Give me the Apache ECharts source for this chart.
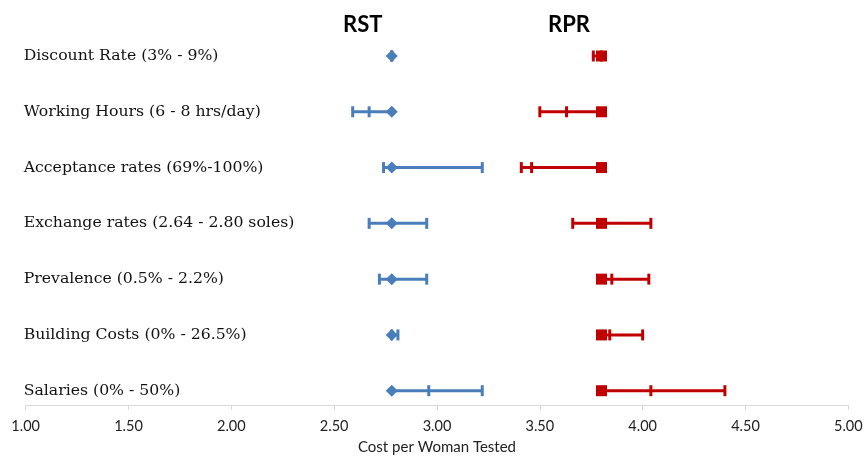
<!DOCTYPE html>
<html><head><meta charset="utf-8">
<script src="https://cdn.jsdelivr.net/npm/echarts@6/dist/echarts.min.js"></script>
<style>html,body{margin:0;padding:0;background:#fff}#c{width:866px;height:456px}</style>
</head><body><div id="c"></div>
<script>
const categories = [
  'Discount Rate (3% - 9%)',
  'Working Hours (6 - 8 hrs/day)',
  'Acceptance rates (69%-100%)',
  'Exchange rates (2.64 - 2.80 soles)',
  'Prevalence (0.5% - 2.2%)',
  'Building Costs (0% - 26.5%)',
  'Salaries (0% - 50%)'
];
const rstBase = [2.78, 2.78, 2.78, 2.78, 2.78, 2.78, 2.78];
const rstLow  = [2.78, 2.59, 2.74, 2.67, 2.72, 2.78, 2.96];
const rstHigh = [2.78, 2.67, 3.22, 2.95, 2.95, 2.81, 3.22];
const rprBase = [3.80, 3.80, 3.80, 3.80, 3.80, 3.80, 3.80];
const rprLow  = [3.76, 3.50, 3.41, 3.66, 3.85, 3.84, 4.04];
const rprHigh = [3.80, 3.63, 3.46, 4.04, 4.03, 4.00, 4.40];
const xTicks = { min: 1, max: 5, interval: 0.5 };

const BLUE = '#4a7ebb', RED = '#c00000';

function errData(base, lo, hi) {
  return categories.map((c, i) => [i, base[i], lo[i], hi[i]]);
}
function makeRender(color) {
  return function (params, api) {
    const i = api.value(0);
    const b = api.value(1), a = api.value(2), c = api.value(3);
    const mn = Math.min(a, b, c), mx = Math.max(a, b, c);
    const p1 = api.coord([mn, i]), p2 = api.coord([mx, i]);
    const pa = api.coord([a, i]), pc = api.coord([c, i]);
    const h = 5.5;
    const st = { stroke: color, lineWidth: 3, lineCap: 'butt' };
    return {
      type: 'group',
      children: [
        { type: 'line', shape: { x1: p1[0], y1: p1[1], x2: p2[0], y2: p2[1] }, style: st },
        { type: 'line', shape: { x1: pa[0], y1: pa[1] - h, x2: pa[0], y2: pa[1] + h }, style: st },
        { type: 'line', shape: { x1: pc[0], y1: pc[1] - h, x2: pc[0], y2: pc[1] + h }, style: st }
      ]
    };
  };
}

const chart = echarts.init(document.getElementById('c'), null, { renderer: 'canvas' });
chart.setOption({
  animation: false,
  backgroundColor: '#fff',
  grid: { left: 25.7, right: 17.7, top: 56, bottom: 65.3, outerBoundsMode: 'none', containLabel: false },
  xAxis: {
    type: 'value', min: xTicks.min, max: xTicks.max, interval: xTicks.interval,
    offset: 14.3,
    name: 'Cost per Woman Tested', nameLocation: 'middle', nameGap: 35,
    nameTextStyle: { fontFamily: 'Lato', fontSize: 15, color: '#222' },
    axisLine: { show: true, lineStyle: { color: '#d9d9d9', width: 1 } },
    axisTick: { show: true, length: 5, lineStyle: { color: '#d9d9d9' } },
    axisLabel: { formatter: v => v.toFixed(2), fontFamily: 'Lato', fontSize: 14.5, color: '#222', margin: 14 },
    splitLine: { show: false }
  },
  yAxis: {
    type: 'category', data: categories, inverse: true, boundaryGap: false,
    axisLine: { show: false }, axisTick: { show: false }, splitLine: { show: false },
    axisLabel: { inside: true, margin: -2, align: 'left', fontFamily: 'DejaVu Serif', fontSize: 15.7, color: '#111' }
  },
  graphic: [
    { type: 'text', left: 343, top: 14, style: { text: 'RST', fontFamily: 'Lato', fontWeight: 'bold', fontSize: 22, fill: '#000' } },
    { type: 'text', left: 548, top: 14, style: { text: 'RPR', fontFamily: 'Lato', fontWeight: 'bold', fontSize: 22, fill: '#000' } }
  ],
  series: [
    { name: 'RST range', type: 'custom', renderItem: makeRender(BLUE), data: errData(rstBase, rstLow, rstHigh),
      encode: { x: [1, 2, 3], y: 0 }, z: 2 },
    { name: 'RPR range', type: 'custom', renderItem: makeRender(RED), data: errData(rprBase, rprLow, rprHigh),
      encode: { x: [1, 2, 3], y: 0 }, z: 2 },
    { name: 'RST', type: 'scatter', symbol: 'diamond', symbolSize: 12, itemStyle: { color: BLUE, opacity: 1 },
      data: rstBase.map((v, i) => [v, i]), z: 3 },
    { name: 'RPR', type: 'scatter', symbol: 'rect', symbolSize: 11, itemStyle: { color: RED, opacity: 1 },
      data: rprBase.map((v, i) => [v, i]), z: 3 }
  ]
});
</script></body></html>
